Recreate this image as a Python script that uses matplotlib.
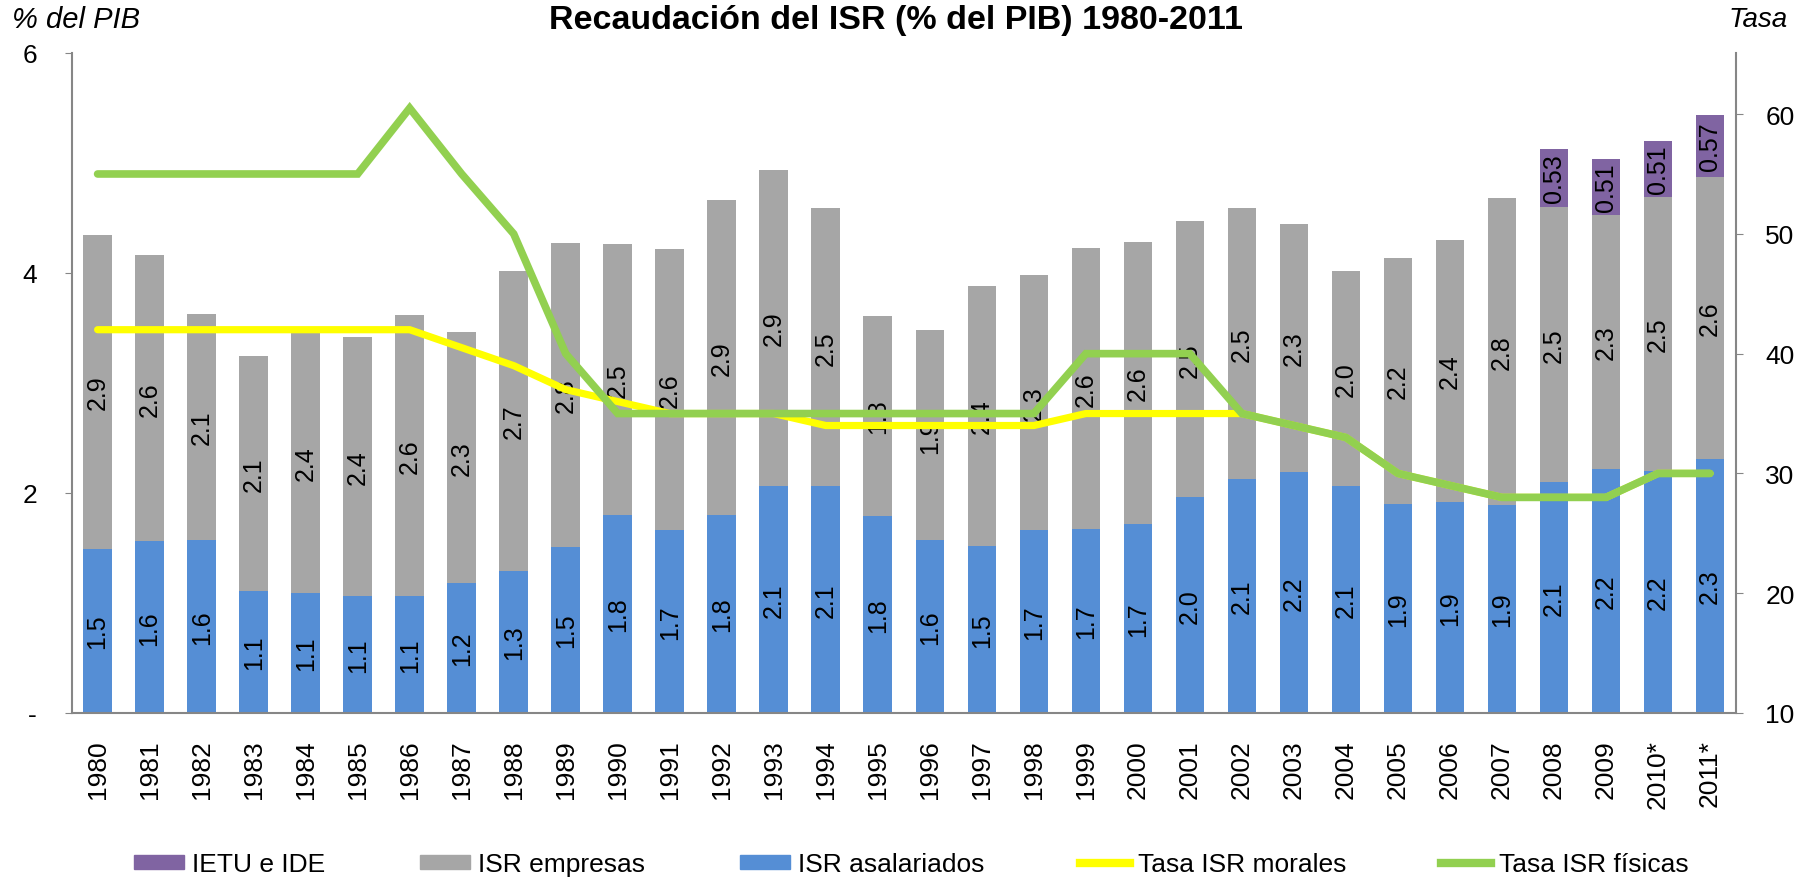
import matplotlib
matplotlib.use("Agg")
import matplotlib.pyplot as plt
from matplotlib.lines import Line2D
from matplotlib.patches import Patch
import numpy as np

plt.rcParams['font.family'] = ['Liberation Sans', 'DejaVu Sans']

years = ['1980', '1981', '1982', '1983', '1984', '1985', '1986', '1987', '1988', '1989',
         '1990', '1991', '1992', '1993', '1994', '1995', '1996', '1997', '1998', '1999',
         '2000', '2001', '2002', '2003', '2004', '2005', '2006', '2007', '2008', '2009',
         '2010*', '2011*']

isr_asalariados = [1.49, 1.56, 1.57, 1.11, 1.09, 1.06, 1.06, 1.18, 1.29, 1.51,
                   1.80, 1.66, 1.80, 2.06, 2.06, 1.79, 1.57, 1.52, 1.66, 1.67,
                   1.72, 1.96, 2.13, 2.19, 2.06, 1.90, 1.92, 1.89, 2.10, 2.22,
                   2.20, 2.31]

isr_empresas = [2.86, 2.60, 2.06, 2.14, 2.38, 2.36, 2.56, 2.28, 2.73, 2.76,
                2.46, 2.56, 2.86, 2.88, 2.53, 1.82, 1.91, 2.36, 2.32, 2.56,
                2.56, 2.51, 2.46, 2.26, 1.96, 2.24, 2.38, 2.79, 2.50, 2.31,
                2.49, 2.56]

ietu_years = ['2008', '2009', '2010*', '2011*']
ietu_ide = [0.53, 0.51, 0.51, 0.57]

tasa_morales = [42, 42, 42, 42, 42, 42, 42, 40.5, 39, 37,
                36, 35, 35, 35, 34, 34, 34, 34, 34, 35,
                35, 35, 35, 34, 33, 30, 29, 28, 28, 28,
                30, 30]

tasa_fisicas = [55, 55, 55, 55, 55, 55, 60.5, 55, 50, 40,
                35, 35, 35, 35, 35, 35, 35, 35, 35, 40,
                40, 40, 35, 34, 33, 30, 29, 28, 28, 28,
                30, 30]

C_BLUE = '#558ED5'
C_GRAY = '#A6A6A6'
C_PURPLE = '#8064A2'
C_YELLOW = '#FFFF00'
C_GREEN = '#92D050'
C_SPINE = '#868686'

W, H = 1812, 878
fig = plt.figure(figsize=(W / 100, H / 100), dpi=100)
ax_l, ax_r, ax_t, ax_b = 71.6, 1736, 54, 714
ax = fig.add_axes([ax_l / W, 1 - ax_b / H, (ax_r - ax_l) / W, (ax_b - ax_t) / H])

x = np.arange(len(years))
bw = 0.55
blue = np.array(isr_asalariados)
gray = np.array(isr_empresas)
ax.bar(x, blue, width=bw, color=C_BLUE, zorder=2)
ax.bar(x, gray, bottom=blue, width=bw, color=C_GRAY, zorder=2)
ix = np.array([years.index(y) for y in ietu_years])
ax.bar(ix, ietu_ide, bottom=blue[ix] + gray[ix], width=bw, color=C_PURPLE, zorder=2)

lab_fs = 18
for i in range(len(years)):
    ax.text(x[i], blue[i] / 2, f'{blue[i]:.1f}', rotation=90, ha='center', va='center',
            fontsize=lab_fs, zorder=3)
    ax.text(x[i], blue[i] + gray[i] / 2, f'{gray[i]:.1f}', rotation=90, ha='center',
            va='center', fontsize=lab_fs, zorder=3)
for j, i in enumerate(ix):
    b = blue[i] + gray[i]
    ax.text(i, b + ietu_ide[j] / 2, f'{ietu_ide[j]:.2f}', rotation=90, ha='center',
            va='center', fontsize=lab_fs, zorder=3)

ax.set_xlim(-0.5, len(years) - 0.5)
ax.set_ylim(0, 6)
ax.set_yticks([0, 2, 4, 6])
ax.set_yticklabels(['-', '2', '4', '6'])
ax.set_xticks(x)
ax.set_xticklabels(years, rotation=90, fontsize=19)
ax.tick_params(axis='x', length=0, pad=19)
ax.tick_params(axis='y', length=5, color=C_SPINE, labelsize=19, pad=20)
for s in ['top', 'right']:
    ax.spines[s].set_visible(False)
for s in ['left', 'bottom']:
    ax.spines[s].set_color(C_SPINE)
    ax.spines[s].set_linewidth(1.5)

ax2 = ax.twinx()
ax2.plot(x, tasa_morales, color=C_YELLOW, lw=5.2, solid_joinstyle='miter',
         solid_capstyle='round', zorder=3)
ax2.plot(x, tasa_fisicas, color=C_GREEN, lw=5.5, solid_joinstyle='miter',
         solid_capstyle='round', zorder=4)
ax2.set_ylim(10, 65.1)
ax2.set_yticks([10, 20, 30, 40, 50, 60])
ax2.tick_params(axis='y', length=5, color=C_SPINE, labelsize=19, pad=16)
for s in ['top', 'left', 'bottom']:
    ax2.spines[s].set_visible(False)
ax2.spines['right'].set_color(C_SPINE)
ax2.spines['right'].set_linewidth(1.5)

fig.text(896 / W, 1 - 20 / H, 'Recaudación del ISR (% del PIB) 1980-2011', ha='center',
         va='center', fontsize=24.5, fontweight='bold')
fig.text(12 / W, 1 - 20 / H, '% del PIB', ha='left', va='center', fontsize=21,
         fontstyle='italic')
fig.text(1788 / W, 1 - 20 / H, 'Tasa', ha='right', va='center', fontsize=20,
         fontstyle='italic')

handles = [Patch(color=C_PURPLE), Patch(color=C_GRAY), Patch(color=C_BLUE),
           Line2D([], [], color=C_YELLOW, lw=6), Line2D([], [], color=C_GREEN, lw=6)]
labels = ['IETU e IDE', 'ISR empresas', 'ISR asalariados', 'Tasa ISR morales',
          'Tasa ISR físicas']
fig.legend(handles, labels, loc='center', bbox_to_anchor=(0.503, 1 - 865 / H), ncol=5,
           frameon=False, fontsize=19, handlelength=1.9, handleheight=0.45,
           handletextpad=0.3, columnspacing=3.6)

fig.savefig('out.png', dpi=100)
